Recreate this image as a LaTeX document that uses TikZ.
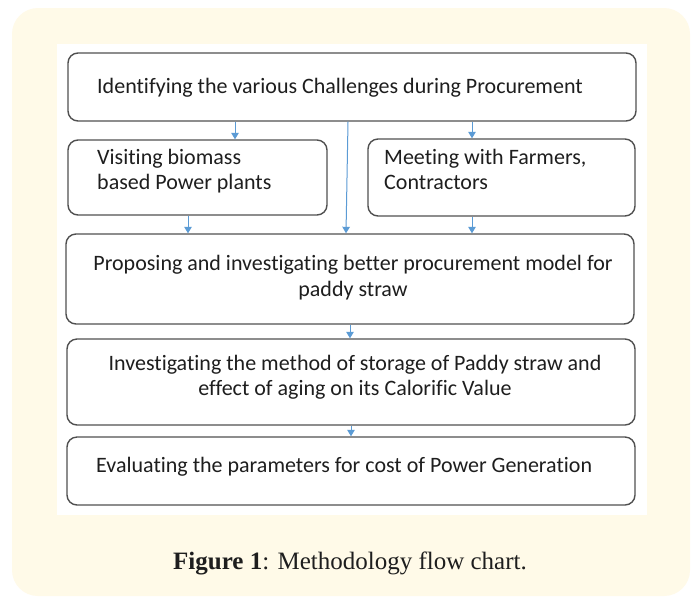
\documentclass[tikz,border=0pt]{standalone}
\usepackage{fontspec}
\setmainfont{Carlito}[Ligatures={NoCommon,NoRequired,NoContextual}]
\newfontfamily\capfont{Liberation Serif}
\usetikzlibrary{arrows.meta}
\definecolor{paper}{RGB}{255,250,232}
\definecolor{edge}{RGB}{80,80,80}
\definecolor{flow}{RGB}{91,155,213}
\definecolor{ink}{RGB}{30,30,30}
\tikzset{
  stepbox/.style={draw=edge, line width=1.4pt, rounded corners=10pt, fill=white, inner sep=0pt},
  boxtext/.style={text=ink, font=\fontsize{22}{25.5}\selectfont, inner sep=0pt, align=left},
  flowarrow/.style={draw=flow, line width=1pt, -{Triangle[width=7.5pt,length=6.5pt]}},
}
\begin{document}
\begin{tikzpicture}[x=1pt,y=-1pt]
  % page and panel
  \useasboundingbox (0,0) rectangle (692,598);
  \fill[white] (0,0) rectangle (692,598);
  \fill[paper, rounded corners=26pt] (12,8) rectangle (690,596);
  \fill[white] (57,44) rectangle (647,515);

  % process boxes
  \node[stepbox, minimum width=568pt, minimum height=68pt] (b1) at (352,87) {};
  \node[stepbox, minimum width=259pt, minimum height=75pt] (b2) at (197.5,177.5) {};
  \node[stepbox, minimum width=267pt, minimum height=77pt] (b3) at (501.5,177.5) {};
  \node[stepbox, minimum width=568pt, minimum height=90pt] (b4) at (350,279) {};
  \node[stepbox, minimum width=568pt, minimum height=86pt] (b5) at (351,382) {};
  \node[stepbox, minimum width=568pt, minimum height=68pt] (b6) at (351,471) {};

  % box texts
  \node[boxtext, anchor=west] (t1) at (97,88) {Identifying the various Challenges during Procurement};
  \node[boxtext, anchor=west] (t2) at (97,171) {Visiting biomass\\based Power plants};
  \node[boxtext, anchor=west] (t3) at (384,169.5) {Meeting with Farmers,\\Contractors};
  \node[boxtext, align=center] (t4) at (353,277.5) {Proposing and investigating better procurement model for\\paddy straw};
  \node[boxtext, align=center] (t5) at (355,377) {Investigating the method of storage of Paddy straw and\\effect of aging on its Calorific Value};
  \node[boxtext, anchor=west] (t6) at (96,467) {Evaluating the parameters for cost of Power Generation};

  % arrow columns
  \coordinate (cA) at (235,0);
  \coordinate (cB) at (472,0);
  \coordinate (cC) at (348,0);
  \coordinate (cD) at (346,0);
  \coordinate (cE) at (188,0);
  \coordinate (cF) at (350,0);
  \coordinate (cG) at (351,0);

  % connectors
  \draw[flowarrow] (b1.south -| cA) -- (b2.north -| cA);
  \draw[flowarrow] (b1.south -| cB) -- (b3.north -| cB);
  \draw[flowarrow] (b1.south -| cC) -- (b4.north -| cD);
  \draw[flowarrow] (b2.south -| cE) -- (b4.north -| cE);
  \draw[flowarrow] (b3.south -| cB) -- (b4.north -| cB);
  \draw[flowarrow] (b4.south -| cF) -- (b5.north -| cF);
  \draw[flowarrow] (b5.south -| cG) -- (b6.north -| cG);

  % caption
  \node[text=ink, font=\capfont\fontsize{25}{29}\selectfont, inner sep=0pt] (cap) at (350,563)
    {\textbf{Figure 1}: Methodology flow chart.};
\end{tikzpicture}
\end{document}
